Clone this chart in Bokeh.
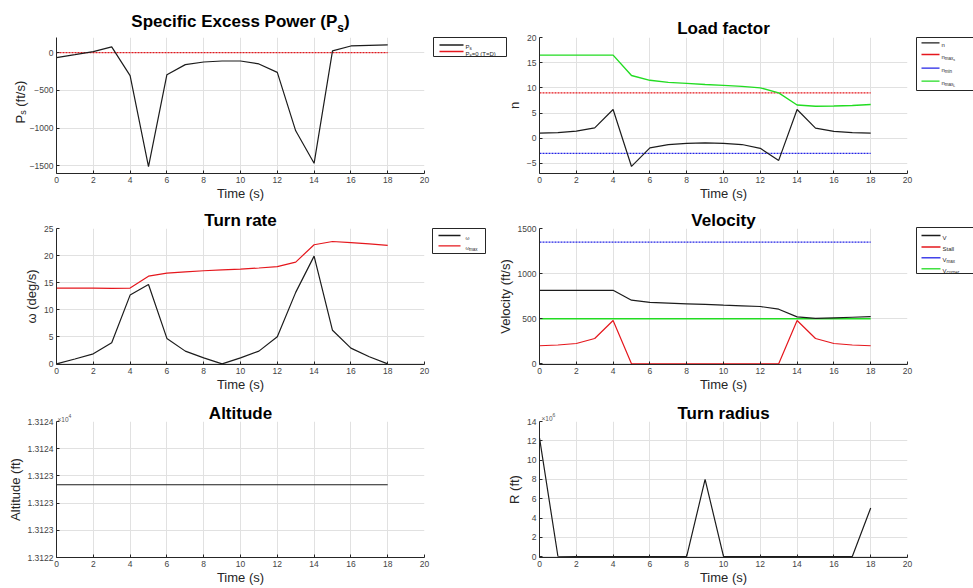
import math

from bokeh.core.properties import value
from bokeh.embed import file_html
from bokeh.layouts import column, row
from bokeh.models import ColumnDataSource, FixedTicker, Range1d
from bokeh.plotting import figure
from bokeh.resources import INLINE

# ---------------------------------------------------------------- data
time_s = [0, 1, 2, 3, 4, 5, 6, 7, 8, 9, 10, 11, 12, 13, 14, 15, 16, 17, 18]

# specific excess power (ft/s)
ps = [-66, -27, 13, 75, -305, -1509, -292, -159, -124, -111,
      -111, -150, -261, -1035, -1465, 22, 88, 97, 102]
ps_zero = [0] * len(time_s)

# load factor
n_load = [1.0, 1.1, 1.4, 2.05, 5.7, -5.6, -1.9, -1.26, -1.0, -0.93,
          -1.0, -1.25, -2.0, -4.4, 5.7, 2.0, 1.35, 1.1, 1.0]
n_max_s = [9.0] * len(time_s)
n_min = [-3.0] * len(time_s)
n_max_l = [16.5, 16.5, 16.5, 16.5, 16.5, 12.45, 11.5, 11.1, 10.9, 10.66,
           10.5, 10.3, 10.0, 9.0, 6.6, 6.35, 6.4, 6.5, 6.7]

# turn rate (deg/s)
omega = [0.0, 0.9, 1.85, 3.9, 12.7, 14.65, 4.7, 2.35, 1.1, 0.0,
         1.1, 2.35, 5.0, 13.2, 19.9, 6.2, 2.9, 1.3, 0.0]
omega_max = [14.0, 14.0, 14.0, 13.95, 14.0, 16.2, 16.75, 17.0, 17.2, 17.35,
             17.5, 17.7, 17.95, 18.8, 22.0, 22.6, 22.4, 22.15, 21.9]

# velocity (ft/s)
vel = [813, 813, 813, 813, 815, 705, 680, 672, 665, 658,
       650, 643, 635, 605, 520, 503, 509, 516, 522]
stall = [200, 208, 225, 280, 480, 0, 0, 0, 0, 0,
         0, 0, 0, 0, 480, 280, 225, 208, 200]
v_max = [1350] * len(time_s)
v_corner = [500] * len(time_s)

# altitude (ft)
altitude = [13123.07, 13123.07, 13123.07, 13123.07, 13123.07, 13123.07, 13123.07,
            13123.07, 13123.07, 13123.07, 13123.07, 13123.07, 13123.07, 13123.07,
            13123.07, 13123.07, 13123.07, 13123.07, 13123.07]
alt_ticks = [13122.0, 13122.4, 13122.8, 13123.2, 13123.6, 13124.0]
alt_tick_labels = ["1.3122", "1.3123", "1.3123", "1.3123", "1.3124", "1.3124"]

# turn radius (x10^6 ft)
radius_e6 = [12.3, 0.052, 0.025, 0.012, 0.004, 0.003, 0.008, 0.016, 0.035, 8.0,
             0.034, 0.015, 0.007, 0.003, 0.0015, 0.005, 0.01, 0.023, 5.05]

time_ticks = [0, 2, 4, 6, 8, 10, 12, 14, 16, 18, 20]

# ---------------------------------------------------------------- styling
FONT = "Liberation Sans"
INK = "#262626"
BLACK = "#1c1c1c"
RED = "#e5171d"
BLUE = "#2323e6"
GREEN = "#22dc22"
GRID = "#e1e1e1"
NBSP = "\u00a0"

PAGE_W, PAGE_H = 973, 588
FRAME_W = 368
FRAME_H = 136
ROW_H = [205, 193, 190]
ROW_TOP = [37, 23, 23]
COL_W = [510, 483]
COL_BL = [56, 49]

W_REG = {" ": .278, NBSP: .278, "(": .333, ")": .333, "/": .278, "=": .584, ".": .278,
         "P": .667, "T": .611, "D": .722, "V": .667, "S": .667, "L": .556,
         "a": .556, "c": .5, "e": .556, "f": .278, "i": .222, "l": .222,
         "m": .833, "n": .556, "o": .556, "r": .333, "s": .5, "t": .278,
         "x": .5, "\u00d7": .584, "\u03c9": .69}
W_BOLD = {" ": .278, "(": .333, ")": .333, "S": .667, "E": .667, "P": .667,
          "p": .611, "e": .556, "c": .556, "i": .278, "f": .333, "x": .556,
          "s": .556, "o": .611, "w": .778, "r": .389}


def text_width(s, px, bold=False):
    tbl = W_BOLD if bold else W_REG
    return sum(tbl.get(ch, 0.556) for ch in s) * px


def make_panel(col, rw, y_lo, y_hi, y_ticks, y_label=""):
    width = COL_W[col]
    height = ROW_H[rw]
    bl = COL_BL[col]
    bt = ROW_TOP[rw]
    p = figure(width=width, height=height,
               min_border_left=bl, min_border_right=width - bl - FRAME_W,
               min_border_top=bt, min_border_bottom=height - bt - FRAME_H,
               x_range=Range1d(0, 20), y_range=Range1d(y_lo, y_hi),
               toolbar_location=None, output_backend="svg", title=None)
    p.outline_line_color = None
    p.background_fill_color = "white"
    p.border_fill_color = "white" if col == 0 else None
    p.xaxis.ticker = FixedTicker(ticks=time_ticks)
    p.yaxis.ticker = FixedTicker(ticks=y_ticks)
    for ax in (p.xaxis[0], p.yaxis[0]):
        ax.axis_line_color = INK
        ax.major_tick_line_color = INK
        ax.major_tick_in = 3
        ax.major_tick_out = 0
        ax.minor_tick_in = 0
        ax.minor_tick_out = 0
        ax.major_label_text_font = FONT
        ax.major_label_text_font_size = "8.5px"
        ax.major_label_text_color = "#444444"
        ax.major_label_standoff = 3
        ax.axis_label_text_font = FONT
        ax.axis_label_text_font_size = "13px"
        ax.axis_label_text_font_style = "normal"
        ax.axis_label_text_color = INK
        ax.axis_label_standoff = 2
    p.xaxis.axis_label = "Time (s)"
    p.xaxis.axis_label_standoff = 0
    p.yaxis.axis_label = y_label
    p.grid.grid_line_color = GRID
    p.grid.grid_line_width = 1
    return p


# ---------------------------------------------------------------- text / legend overlay (page pixels)
txt = {"x": [], "y": [], "text": [], "size": [], "style": [], "color": [],
       "angle": [], "align": []}
seg = {"x0": [], "y0": [], "x1": [], "y1": [], "color": []}
box = {"left": [], "right": [], "top": [], "bottom": []}


def put(X, Y, s, px, color=INK, bold=False, angle=0.0, align="left"):
    txt["x"].append(X)
    txt["y"].append(PAGE_H - Y)
    txt["text"].append(s)
    txt["size"].append(f"{px}px")
    txt["style"].append("bold" if bold else "normal")
    txt["color"].append(color)
    txt["angle"].append(angle)
    txt["align"].append(align)


def rich(X, Y, pieces, color=INK, bold=False, rotated=False):
    """A run of (text, size, drop) pieces starting at page point X, Y."""
    adv = 0.0
    for s, px, drop in pieces:
        if rotated:
            put(X + drop, Y - adv, s, px, color, bold, math.pi / 2)
        else:
            put(X + adv, Y + drop, s, px, color, bold)
        adv += text_width(s, px, bold)


def legend(frame, rows, line_x, text_x):
    x0, y0, x1, y1 = frame
    box["left"].append(x0)
    box["right"].append(x1)
    box["top"].append(PAGE_H - y0)
    box["bottom"].append(PAGE_H - y1)
    for ly, color, pieces in rows:
        seg["x0"].append(line_x[0])
        seg["x1"].append(line_x[1])
        seg["y0"].append(PAGE_H - ly)
        seg["y1"].append(PAGE_H - ly)
        seg["color"].append(color)
        rich(text_x, ly + 2.2, pieces)


# ---------------------------------------------------------------- specific excess power
p_ps = make_panel(0, 0, -1600, 200, [-1500, -1000, -500, 0])
p_ps.line(time_s, ps_zero, line_color=RED, line_width=1.2, line_dash="2 1")
p_ps.line(time_s, ps, line_color=BLACK, line_width=1.2)

ps_title = [("Specific Excess Power (P", 17, 0), ("s", 12, 6), (")", 17, 0)]
ps_title_w = sum(text_width(s, px, True) for s, px, _ in ps_title)
rich(240 - ps_title_w / 2, 21, ps_title, color="#000000", bold=True)
rich(19.5, 123, [("P", 13, 0), ("s", 9, 3), (NBSP + "(ft/s)", 13, 0)], rotated=True)
legend((433, 37, 506, 56),
       [(44.5, BLACK, [("P", 6, 0), ("s", 4.5, 1.5)]),
        (51.0, RED, [("P", 6, 0), ("s", 4.5, 1.5), ("=0 (T=D)", 6, 0)])],
       (439, 463), 465)

# ---------------------------------------------------------------- load factor
p_n = make_panel(1, 0, -7, 20, [-5, 0, 5, 10, 15, 20], "n")
p_n.line(time_s, n_max_s, line_color=RED, line_width=1.2, line_dash="2 1")
p_n.line(time_s, n_min, line_color=BLUE, line_width=1.2, line_dash="2 1")
p_n.line(time_s, n_max_l, line_color=GREEN, line_width=1.4)
p_n.line(time_s, n_load, line_color=BLACK, line_width=1.2)
put(723, 28, "Load factor", 17, "#000000", True, align="center")
legend((916, 37, 990, 90),
       [(42.3, BLACK, [("n", 6, 0)]),
        (54.0, RED, [("n", 6, 0), ("max", 4.5, 1.5), ("s", 3.5, 3)]),
        (67.7, BLUE, [("n", 6, 0), ("min", 4.5, 1.5)]),
        (80.7, GREEN, [("n", 6, 0), ("max", 4.5, 1.5), ("L", 3.5, 3)])],
       (921, 939), 941)

# ---------------------------------------------------------------- turn rate
p_w = make_panel(0, 1, -0.12, 25, [0, 5, 10, 15, 20, 25], "\u03c9 (deg/s)")
p_w.line(time_s, omega_max, line_color=RED, line_width=1.2)
p_w.line(time_s, omega, line_color=BLACK, line_width=1.2)
put(240, 220, "Turn rate", 17, "#000000", True, align="center")
legend((432, 228, 485, 253),
       [(235.0, BLACK, [("\u03c9", 5, 0)]),
        (245.3, RED, [("\u03c9", 5, 0), ("max", 4.5, 1.5)])],
       (438, 460), 465)

# ---------------------------------------------------------------- velocity
p_v = make_panel(1, 1, -8, 1500, [0, 500, 1000, 1500], "Velocity (ft/s)")
p_v.line(time_s, v_max, line_color=BLUE, line_width=1.2, line_dash="2 1")
p_v.line(time_s, v_corner, line_color=GREEN, line_width=1.4)
p_v.line(time_s, stall, line_color=RED, line_width=1.2)
p_v.line(time_s, vel, line_color=BLACK, line_width=1.2)
put(723, 220, "Velocity", 17, "#000000", True, align="center")
legend((916, 227, 990, 273),
       [(235.0, BLACK, [("V", 6, 0)]),
        (246.5, RED, [("Stall", 6, 0)]),
        (257.3, BLUE, [("V", 6, 0), ("max", 4.5, 1.5)]),
        (268.3, GREEN, [("V", 6, 0), ("corner", 4.5, 1.5)])],
       (921, 940), 942)

# ---------------------------------------------------------------- altitude
p_a = make_panel(0, 2, 13122, 13124, alt_ticks, "Altitude (ft)")
p_a.yaxis.major_label_overrides = {t: s for t, s in zip(alt_ticks, alt_tick_labels)}
p_a.line(time_s, altitude, line_color=BLACK, line_width=1.2)
put(240, 413, "Altitude", 17, "#000000", True, align="center")
rich(57, 418.5, [("\u00d710", 6.5, 0), ("4", 5, -3.5)], color="#555555")

# ---------------------------------------------------------------- turn radius
p_r = make_panel(1, 2, -0.08, 14, [0, 2, 4, 6, 8, 10, 12, 14], "R (ft)")
p_r.line(time_s, radius_e6, line_color=BLACK, line_width=1.2)
put(723, 413, "Turn radius", 17, "#000000", True, align="center")
rich(541, 418, [("\u00d710", 6.5, 0), ("6", 5, -3.5)], color="#555555")

# ---------------------------------------------------------------- overlay canvas for titles and legends
ov = figure(width=PAGE_W, height=PAGE_H, x_range=Range1d(0, PAGE_W), y_range=Range1d(0, PAGE_H),
            x_axis_type=None, y_axis_type=None, toolbar_location=None,
            output_backend="svg", title=None, min_border=0,
            margin=(-PAGE_H, 0, 0, 0))
ov.grid.visible = False
ov.outline_line_color = None
ov.background_fill_color = None
ov.border_fill_color = None
ov.quad(left="left", right="right", top="top", bottom="bottom",
        source=ColumnDataSource(box), fill_color="white", line_color=INK, line_width=1)
ov.segment(x0="x0", y0="y0", x1="x1", y1="y1", source=ColumnDataSource(seg),
           line_color="color", line_width=1.3)
ov.text(x="x", y="y", text="text", source=ColumnDataSource(txt),
        text_font=value(FONT), text_font_size="size", text_font_style="style",
        text_color="color", angle="angle", text_align="align",
        text_baseline="alphabetic")

left = column(p_ps, p_w, p_a)
right = column(p_n, p_v, p_r, margin=(0, 0, 0, -20))
layout = column(row(left, right), ov)

open("out.html", "w").write(file_html(layout, INLINE))
